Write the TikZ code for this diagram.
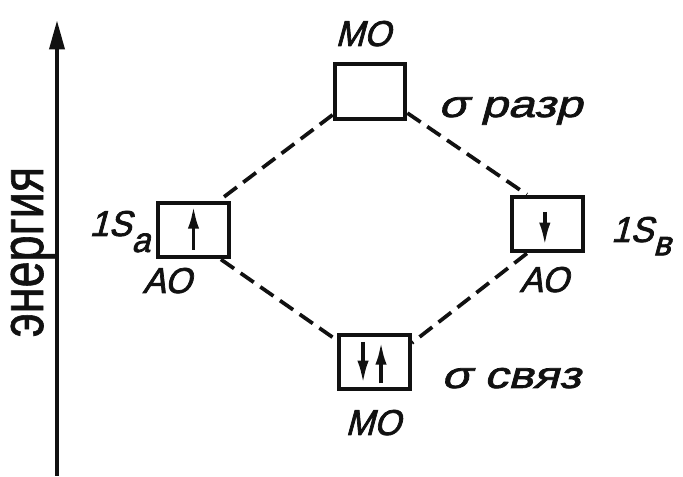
\documentclass[tikz,border=0pt]{standalone}
\usepackage{fontspec}
\usepackage{xcolor}
\usepackage{tikz}
\usetikzlibrary{arrows.meta}
\setmainfont{Liberation Sans}
\newfontfamily\gostcaps[FakeSlant=0.27,FakeStretch=0.95,FakeBold=2]{Liberation Sans}
\newfontfamily\gostlow[FakeSlant=0.27,FakeStretch=1.28,FakeBold=2]{Liberation Sans}
\newfontfamily\gostaxis[FakeStretch=0.78,FakeBold=1]{Liberation Sans}
\definecolor{MOink}{HTML}{111111}
\tikzset{
  orbbox/.style={draw=MOink, line width=3.1pt, minimum width=53pt, minimum height=41pt, inner sep=0pt},
  caplbl/.style={font=\gostcaps\fontsize{27}{30}\selectfont, text=MOink, inner sep=0pt},
  lowlbl/.style={font=\gostlow\fontsize{28}{30}\selectfont, text=MOink, inner sep=0pt},
  axislbl/.style={font=\gostaxis\fontsize{45}{47}\selectfont, text=MOink, inner sep=0pt, rotate=90, text height=24pt, text depth=9pt},
  corrline/.style={draw=MOink, line width=2.8pt, dash pattern=on 12pt off 6pt},
  spinarr/.style={-{Latex[length=17pt,width=8.5pt]}, line width=2.6pt, draw=MOink},
  energyarr/.style={-{Triangle[length=22pt,width=11pt]}, line width=3.4pt, draw=MOink}
}

\begin{document}
\begin{tikzpicture}[x=0.75pt,y=-0.75pt]
  \useasboundingbox (0,0) rectangle (683,477);
  \coordinate (ebot) at (57,476);
  \coordinate (etop) at (57,20);
  \draw[energyarr] (ebot) -- (etop);
  \node[axislbl, anchor=base] (energy) at (43,252) {энергия};

  \node[orbbox] (mo1) at (370,91.5) {};
  \node[orbbox] (ao1) at (193.5,230) {};
  \node[orbbox] (ao2) at (547.5,224) {};
  \node[orbbox] (mo2) at (374.5,362) {};

  \draw[corrline] (mo1.212) -- (ao1.49);
  \draw[corrline] (ao1.313) -- (mo2.150);
  \draw[corrline] (mo1.330) -- (ao2.125);
  \draw[corrline] (ao2.235) -- (mo2.27);

  \draw[spinarr] ([yshift=-15pt]ao1.center) -- ([yshift=18pt]ao1.center);
  \draw[spinarr] ([xshift=-2pt,yshift=9pt]ao2.center) -- ([xshift=-2pt,yshift=-16pt]ao2.center);
  \draw[spinarr] ([xshift=-8.6pt,yshift=15pt]mo2.center) -- ([xshift=-8.6pt,yshift=-16pt]mo2.center);
  \draw[spinarr] ([xshift=4.9pt,yshift=-16pt]mo2.center) -- ([xshift=4.9pt,yshift=15pt]mo2.center);

  \node[caplbl, anchor=base] (mo1lbl) at (363,46) {МО};
  \node[lowlbl, anchor=base west] (razr) at (438,117) {σ разр};
  \node[caplbl, anchor=base east] (s1a) at (150,236) {1S\raisebox{-12pt}{\fontsize{26}{27}\selectfont а}};
  \node[caplbl, anchor=base] (ao1lbl) at (167,293) {АО};
  \node[caplbl, anchor=base west] (s1b) at (611,242) {1S\raisebox{-10pt}{\fontsize{26}{27}\selectfont в}};
  \node[caplbl, anchor=base] (ao2lbl) at (544,292) {АО};
  \node[caplbl, anchor=base] (mo2lbl) at (373,435) {МО};
  \node[lowlbl, anchor=base west] (svyaz) at (441,388) {σ связ};
\end{tikzpicture}
\end{document}
